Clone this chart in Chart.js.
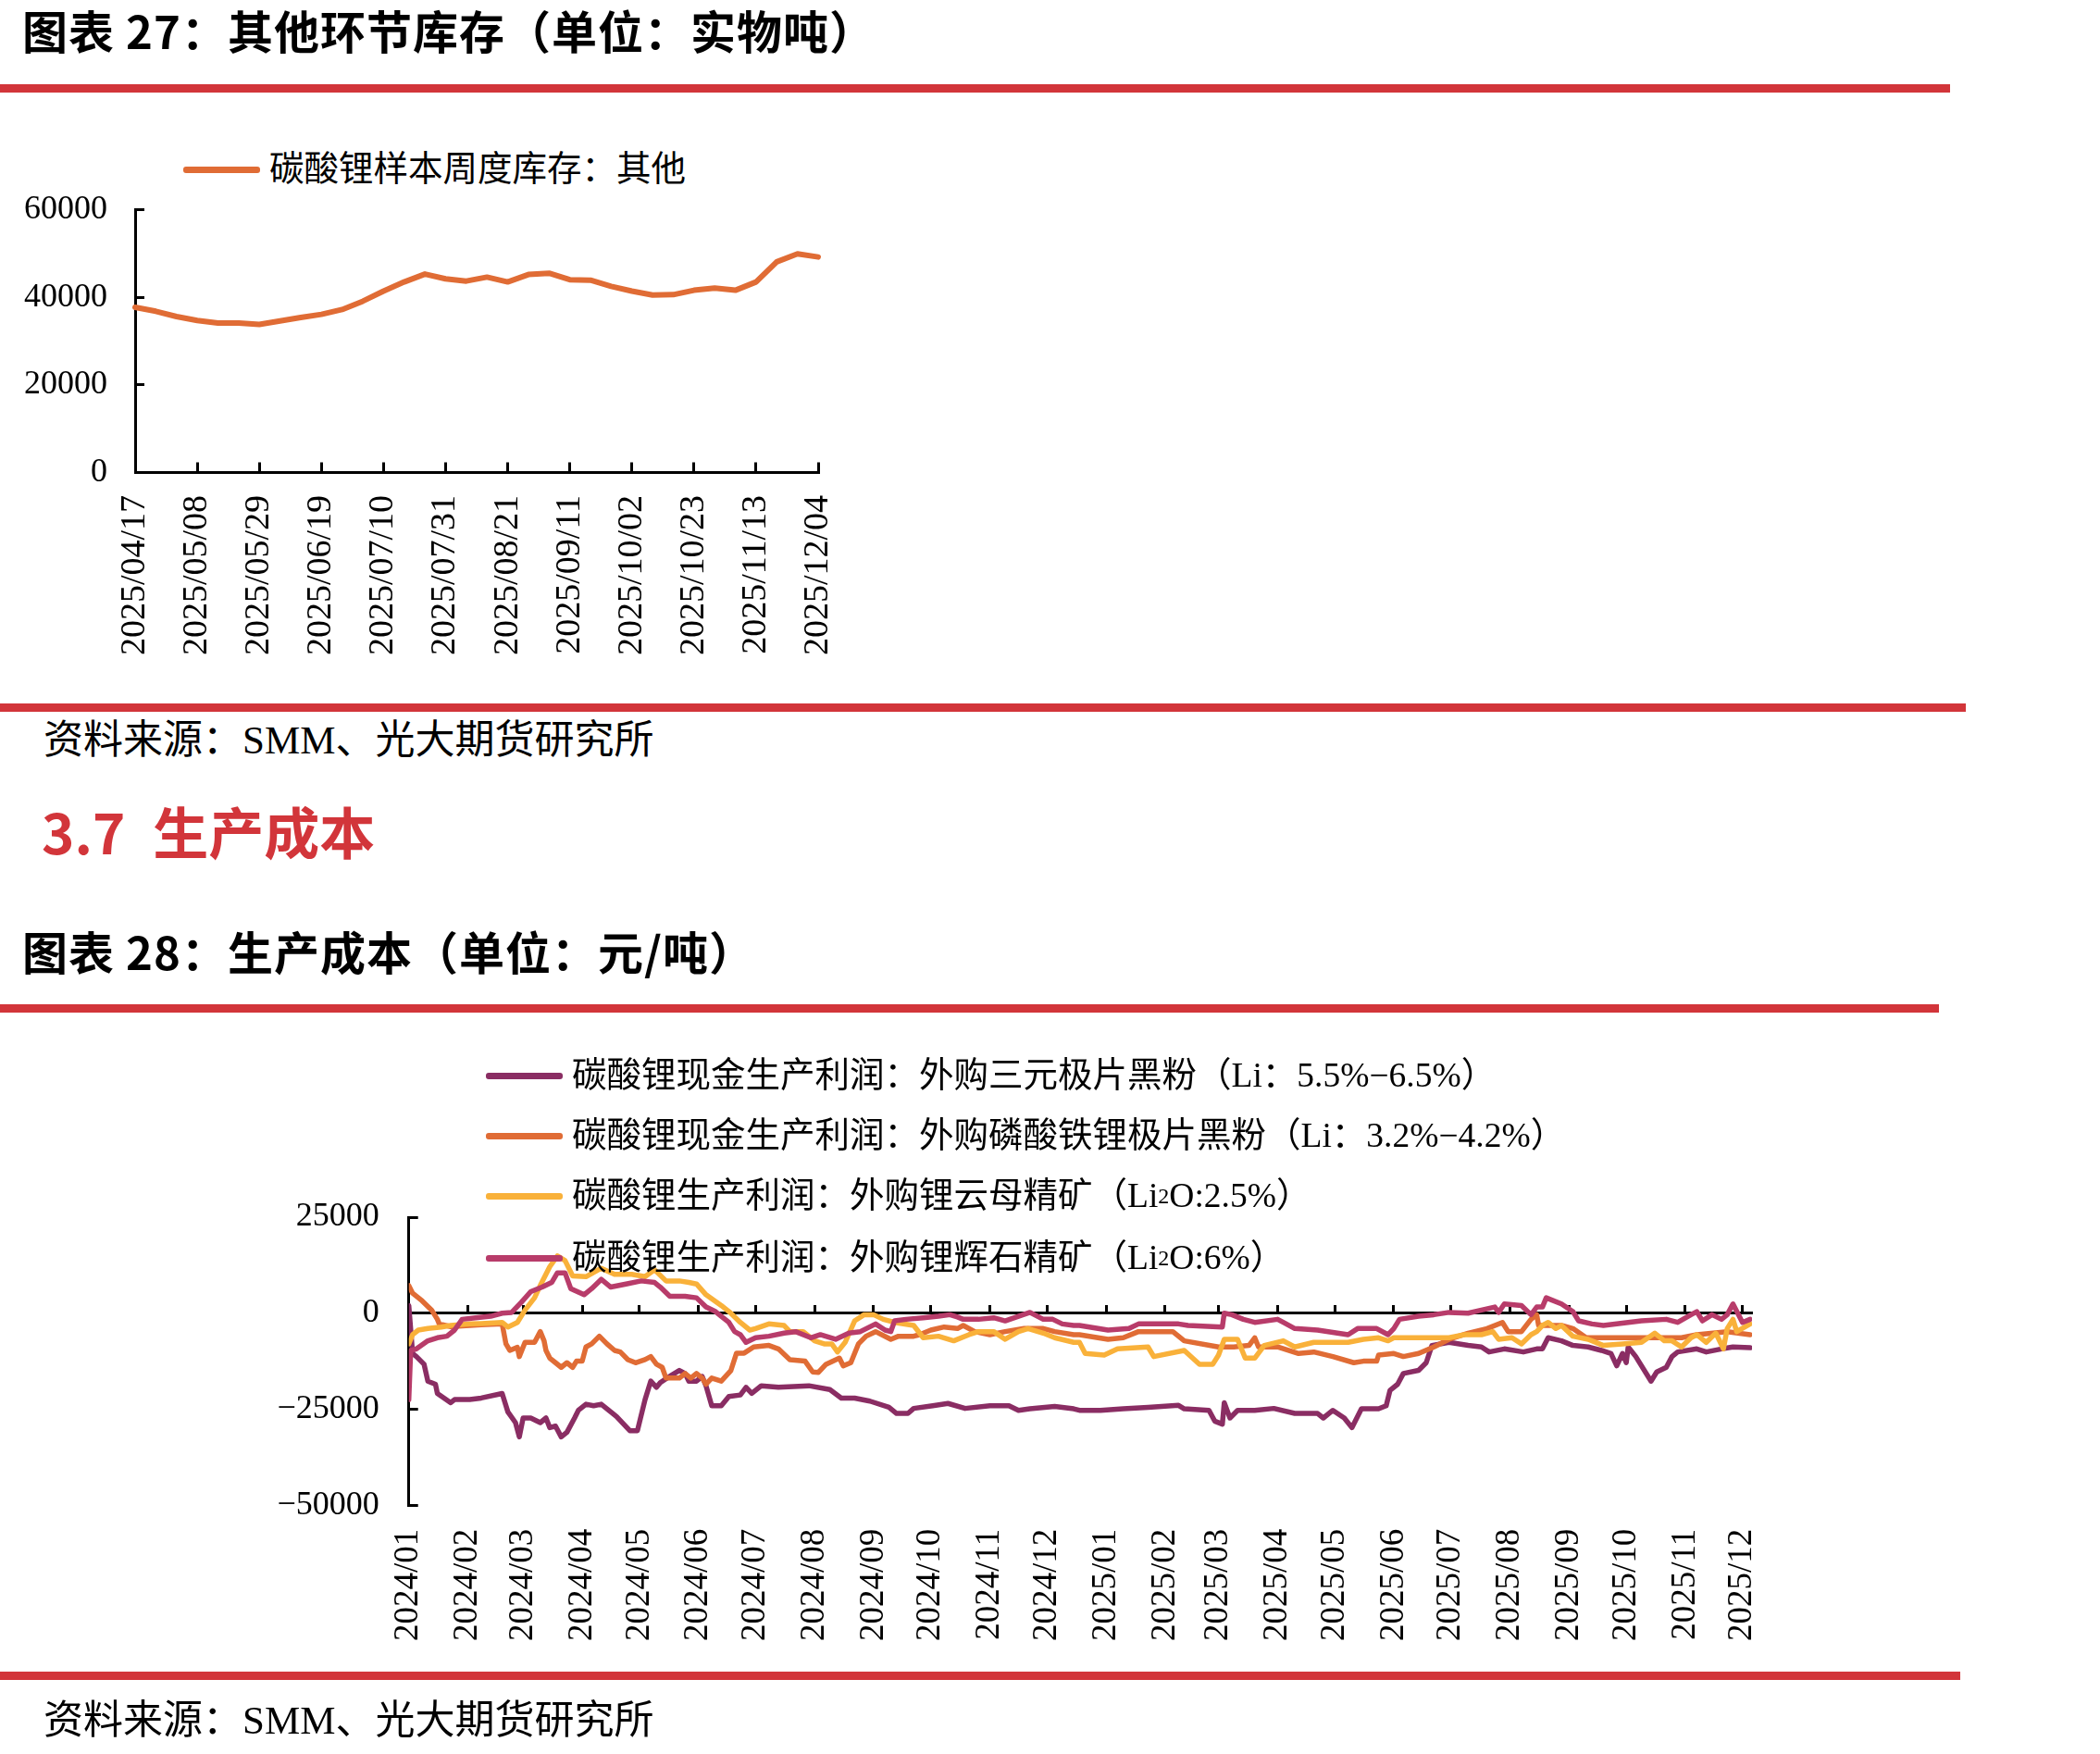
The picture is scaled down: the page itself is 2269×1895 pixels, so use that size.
<!DOCTYPE html>
<html><head><meta charset="utf-8">
<script src="https://cdn.jsdelivr.net/npm/chart.js@4.4.1/dist/chart.umd.min.js"></script>
<style>
html,body{margin:0;padding:0;background:#fff;}
body{width:2269px;height:1895px;position:relative;overflow:hidden;font-family:"Liberation Serif","Noto Sans CJK SC",serif;color:#000;}
.abs{position:absolute;white-space:nowrap;}
.title{font-family:"Noto Sans CJK SC";font-weight:700;font-size:49px;letter-spacing:1px;line-height:60px;height:60px;}
.rule{position:absolute;left:0;height:9px;background:#D2353A;}
.src{font-size:43px;line-height:56px;height:56px;}
.sec{font-family:"Noto Sans CJK SC";font-weight:700;font-size:60px;line-height:80px;height:80px;color:#D2353A;}
.lg{position:absolute;white-space:nowrap;font-size:37.5px;line-height:50px;height:50px;display:flex;align-items:center;}
.lg i{display:inline-block;width:83px;height:7px;margin-right:10px;border-radius:3px;}
.lg sub{font-size:24px;vertical-align:-6px;line-height:0;}
canvas{position:absolute;left:0;}
</style></head>
<body>
<div class="abs title" style="left:24px;top:2px;">图表 27：其他环节库存（单位：实物吨）</div>
<div class="rule" style="top:91px;width:2107px;"></div>
<div class="lg" style="left:198px;top:158px;"><i style="background:#E06C35"></i>碳酸锂样本周度库存：其他</div>
<canvas id="c1" width="950" height="560" style="top:200px;"></canvas>
<div class="rule" style="top:760px;width:2124px;"></div>
<div class="abs src" style="left:47px;top:772px;">资料来源：SMM、光大期货研究所</div>
<div class="abs sec" style="left:45px;top:857px;">3.7<span style="margin-left:30px">生产成本</span></div>
<div class="abs title" style="left:24px;top:997px;">图表 28：生产成本（单位：元/吨）</div>
<div class="rule" style="top:1085px;width:2095px;"></div>
<canvas id="c2" width="2000" height="790" style="top:1100px;"></canvas>
<div class="lg" style="left:525px;top:1137px;"><i style="background:#8A2D63"></i>碳酸锂现金生产利润：外购三元极片黑粉（Li：5.5%−6.5%）</div>
<div class="lg" style="left:525px;top:1202px;"><i style="background:#E06C35"></i>碳酸锂现金生产利润：外购磷酸铁锂极片黑粉（Li：3.2%−4.2%）</div>
<div class="lg" style="left:525px;top:1267px;"><i style="background:#F9B13A"></i>碳酸锂生产利润：外购锂云母精矿（Li<sub>2</sub>O:2.5%）</div>
<div class="lg" style="left:525px;top:1334px;"><i style="background:#B83C6A"></i>碳酸锂生产利润：外购锂辉石精矿（Li<sub>2</sub>O:6%）</div>
<div class="rule" style="top:1806px;width:2118px;"></div>
<div class="abs src" style="left:47px;top:1831px;">资料来源：SMM、光大期货研究所</div>
<script>
// ---------- Chart 27 data ----------
const stockDates = ['2025/04/17','2025/04/24','2025/05/01','2025/05/08','2025/05/15','2025/05/22','2025/05/29','2025/06/05','2025/06/12','2025/06/19','2025/06/26','2025/07/03','2025/07/10','2025/07/17','2025/07/24','2025/07/31','2025/08/07','2025/08/14','2025/08/21','2025/08/28','2025/09/04','2025/09/11','2025/09/18','2025/09/25','2025/10/02','2025/10/09','2025/10/16','2025/10/23','2025/10/30','2025/11/06','2025/11/13','2025/11/20','2025/11/27','2025/12/04'];
const stockOther = [37700,36800,35600,34700,34100,34100,33800,34600,35400,36100,37200,39100,41400,43500,45300,44200,43700,44600,43500,45200,45500,44000,43900,42500,41400,40500,40600,41600,42100,41600,43500,48100,49900,49200];
const stockYTicks = [0,20000,40000,60000];

// ---------- Chart 28 data ----------
const monthLabels = ['2024/01','2024/02','2024/03','2024/04','2024/05','2024/06','2024/07','2024/08','2024/09','2024/10','2024/11','2024/12','2025/01','2025/02','2025/03','2025/04','2025/05','2025/06','2025/07','2025/08','2025/09','2025/10','2025/11','2025/12'];
const costYTicks = [-50000,-25000,0,25000];
const costEndDate = '2025-12-06';

const ternaryDates = ['2024-01-01','2024-01-03','2024-01-05','2024-01-09','2024-01-11','2024-01-15','2024-01-16','2024-01-23','2024-01-25','2024-02-02','2024-02-08','2024-02-19','2024-02-22','2024-02-26','2024-02-28','2024-03-01','2024-03-05','2024-03-10','2024-03-13','2024-03-15','2024-03-18','2024-03-21','2024-03-24','2024-03-28','2024-03-30','2024-04-03','2024-04-07','2024-04-11','2024-04-16','2024-04-19','2024-04-26','2024-04-30','2024-05-04','2024-05-07','2024-05-10','2024-05-12','2024-05-18','2024-05-22','2024-05-25','2024-05-27','2024-05-31','2024-06-03','2024-06-05','2024-06-08','2024-06-13','2024-06-17','2024-06-23','2024-06-26','2024-06-29','2024-07-04','2024-07-13','2024-07-29','2024-08-09','2024-08-15','2024-08-22','2024-08-30','2024-09-09','2024-09-13','2024-09-19','2024-09-22','2024-10-02','2024-10-10','2024-10-19','2024-11-01','2024-11-11','2024-11-16','2024-11-22','2024-12-05','2024-12-15','2024-12-18','2024-12-29','2025-01-10','2025-01-23','2025-02-08','2025-02-11','2025-02-24','2025-02-27','2025-03-03','2025-03-04','2025-03-07','2025-03-11','2025-03-20','2025-03-30','2025-04-10','2025-04-22','2025-04-25','2025-04-30','2025-05-06','2025-05-10','2025-05-15','2025-05-24','2025-05-28','2025-05-30','2025-06-03','2025-06-06','2025-06-14','2025-06-18','2025-06-21','2025-06-30','2025-07-10','2025-07-17','2025-07-21','2025-07-29','2025-08-08','2025-08-15','2025-08-18','2025-08-21','2025-08-28','2025-09-03','2025-09-11','2025-09-18','2025-09-23','2025-09-26','2025-09-29','2025-10-01','2025-10-02','2025-10-06','2025-10-14','2025-10-17','2025-10-22','2025-10-25','2025-10-28','2025-11-07','2025-11-12','2025-11-20','2025-11-26','2025-12-05'];
const ternaryProfit = [2000,-10500,-11300,-13300,-17700,-18500,-20900,-23300,-22500,-22500,-22100,-20900,-25700,-28500,-32200,-27300,-27300,-28500,-27300,-29800,-29400,-32200,-31000,-27300,-25300,-23700,-24100,-23700,-25700,-26900,-30600,-30600,-22500,-17700,-19300,-18100,-16100,-14900,-15700,-17700,-17700,-16500,-18900,-24100,-24100,-21700,-21300,-19300,-20900,-18900,-19300,-18900,-19900,-22100,-22100,-22900,-24500,-26100,-26100,-24800,-24100,-23500,-24800,-24100,-24100,-25300,-24900,-24300,-24900,-25300,-25300,-24900,-24500,-24000,-24900,-25300,-28100,-28900,-23300,-27300,-25300,-25300,-24800,-26100,-26100,-27300,-25300,-27300,-29800,-24900,-24900,-24100,-20100,-18500,-15700,-14900,-12900,-8400,-7600,-8400,-8800,-10100,-9300,-10100,-9300,-9300,-6400,-7200,-8400,-8800,-9700,-10500,-13700,-10500,-12900,-8800,-11300,-17700,-15300,-14100,-11300,-10100,-9300,-10100,-9300,-8800,-9000];

const lfpDates = ['2024-01-01','2024-01-03','2024-01-08','2024-01-13','2024-01-16','2024-01-17','2024-01-23','2024-02-08','2024-02-19','2024-02-21','2024-02-23','2024-02-27','2024-02-28','2024-03-02','2024-03-07','2024-03-10','2024-03-12','2024-03-13','2024-03-15','2024-03-18','2024-03-21','2024-03-24','2024-03-27','2024-03-29','2024-04-01','2024-04-03','2024-04-06','2024-04-10','2024-04-14','2024-04-18','2024-04-21','2024-04-25','2024-04-29','2024-05-04','2024-05-07','2024-05-10','2024-05-13','2024-05-15','2024-05-22','2024-05-25','2024-05-28','2024-05-31','2024-06-03','2024-06-05','2024-06-08','2024-06-13','2024-06-18','2024-06-21','2024-06-25','2024-06-30','2024-07-08','2024-07-13','2024-07-19','2024-07-27','2024-07-31','2024-08-03','2024-08-07','2024-08-14','2024-08-16','2024-08-20','2024-08-24','2024-08-28','2024-09-02','2024-09-10','2024-09-14','2024-09-22','2024-09-25','2024-10-01','2024-10-08','2024-10-15','2024-10-18','2024-10-24','2024-11-01','2024-11-09','2024-11-19','2024-11-29','2024-12-05','2024-12-15','2024-12-18','2025-01-02','2025-01-10','2025-01-18','2025-02-05','2025-02-11','2025-03-01','2025-03-09','2025-03-17','2025-03-20','2025-03-22','2025-04-01','2025-04-12','2025-04-20','2025-04-30','2025-05-11','2025-05-16','2025-05-23','2025-05-24','2025-06-01','2025-06-06','2025-06-14','2025-06-22','2025-06-30','2025-07-10','2025-07-20','2025-07-28','2025-07-31','2025-08-07','2025-08-12','2025-08-15','2025-08-16','2025-08-28','2025-09-03','2025-09-10','2025-09-19','2025-10-14','2025-10-30','2025-11-07','2025-11-23','2025-12-05'];
const lfpProfit = [7200,5200,3200,800,-1600,-2800,-3500,-3000,-2800,-8000,-9700,-8900,-11300,-7600,-7600,-4800,-7200,-9700,-11700,-12900,-14100,-12900,-14100,-12500,-12500,-8800,-8000,-6000,-8000,-9700,-10100,-12100,-12900,-12100,-11300,-13300,-14100,-16900,-16900,-15700,-16900,-15700,-16900,-18500,-16900,-17700,-15000,-10400,-10400,-8800,-8400,-9300,-12100,-12500,-15300,-15400,-13300,-11700,-13700,-12900,-8000,-6000,-4800,-6800,-6000,-6000,-5600,-4400,-3600,-4000,-3200,-4800,-5600,-4800,-4000,-4000,-4800,-5600,-5600,-6800,-6400,-4800,-4800,-7200,-8800,-8800,-8400,-6400,-8800,-8800,-10500,-10100,-11300,-12900,-12500,-12500,-10900,-10500,-11300,-10500,-8800,-6800,-5200,-4000,-2400,-4800,-4800,-1600,-400,-3200,-3200,-4000,-6400,-6400,-6400,-6400,-5600,-4800,-5600];

const lepidoliteDates = ['2024-01-01','2024-01-03','2024-01-06','2024-01-11','2024-01-18','2024-01-23','2024-02-02','2024-02-08','2024-02-19','2024-02-22','2024-02-27','2024-03-02','2024-03-07','2024-03-10','2024-03-15','2024-03-19','2024-03-23','2024-03-27','2024-04-03','2024-04-11','2024-04-18','2024-04-27','2024-05-04','2024-05-09','2024-05-15','2024-05-22','2024-05-27','2024-05-31','2024-06-05','2024-06-13','2024-06-18','2024-06-23','2024-06-28','2024-07-01','2024-07-08','2024-07-16','2024-07-19','2024-07-26','2024-08-01','2024-08-06','2024-08-10','2024-08-13','2024-08-17','2024-08-22','2024-08-27','2024-09-01','2024-09-06','2024-09-12','2024-09-22','2024-09-27','2024-10-05','2024-10-13','2024-10-21','2024-10-26','2024-11-03','2024-11-09','2024-11-16','2024-11-21','2024-11-29','2024-12-05','2024-12-15','2024-12-18','2024-12-21','2024-12-31','2025-01-07','2025-01-23','2025-01-26','2025-02-11','2025-02-19','2025-02-26','2025-03-01','2025-03-04','2025-03-11','2025-03-15','2025-03-20','2025-03-25','2025-04-04','2025-04-10','2025-04-20','2025-05-08','2025-05-16','2025-05-24','2025-05-29','2025-06-01','2025-06-14','2025-06-30','2025-07-08','2025-07-17','2025-07-23','2025-07-26','2025-08-02','2025-08-07','2025-08-12','2025-08-15','2025-08-18','2025-08-21','2025-08-25','2025-08-28','2025-09-03','2025-09-11','2025-09-19','2025-09-29','2025-10-09','2025-10-16','2025-10-21','2025-10-25','2025-10-30','2025-11-04','2025-11-07','2025-11-12','2025-11-17','2025-11-21','2025-11-23','2025-11-26','2025-11-28','2025-12-05'];
const lepidoliteProfit = [-8000,-5600,-4400,-4000,-3600,-3200,-2800,-2700,-2400,-3600,-2400,800,4000,7200,12100,14900,13700,9700,9500,11700,10100,10100,9500,11300,8400,8400,8000,7600,4800,2000,0,-2400,-4400,-4000,-2800,-3200,-4800,-4800,-7200,-8000,-8000,-10100,-7600,-2000,-400,-400,-1600,-2400,-3200,-6400,-6000,-7200,-5600,-4800,-4800,-6800,-4800,-4000,-5200,-6400,-7600,-7600,-10500,-10900,-9300,-8800,-11300,-9700,-13300,-13300,-10900,-6800,-6800,-11700,-11700,-8400,-7200,-8800,-7600,-7600,-6800,-6400,-7200,-6400,-6400,-6400,-5600,-5600,-4800,-6800,-6400,-8000,-5600,-4800,-3200,-2400,-4000,-3200,-6000,-6800,-8400,-8000,-7600,-5200,-7200,-7200,-8800,-6400,-5600,-7600,-5200,-9300,-4000,-1600,-4800,-2800];

const spodumeneDates = ['2024-01-01','2024-01-02','2024-01-05','2024-01-11','2024-01-16','2024-01-21','2024-01-25','2024-01-29','2024-02-05','2024-02-13','2024-02-19','2024-02-24','2024-02-29','2024-03-05','2024-03-11','2024-03-16','2024-03-19','2024-03-23','2024-03-26','2024-04-02','2024-04-06','2024-04-11','2024-04-16','2024-04-24','2024-05-02','2024-05-09','2024-05-12','2024-05-17','2024-05-25','2024-05-31','2024-06-05','2024-06-10','2024-06-13','2024-06-17','2024-06-20','2024-06-23','2024-06-26','2024-07-01','2024-07-08','2024-07-16','2024-07-22','2024-07-30','2024-08-04','2024-08-12','2024-08-19','2024-08-25','2024-09-02','2024-09-07','2024-09-10','2024-09-12','2024-09-18','2024-09-27','2024-10-05','2024-10-11','2024-10-15','2024-10-18','2024-10-26','2024-11-03','2024-11-09','2024-11-16','2024-11-22','2024-11-29','2024-12-04','2024-12-09','2024-12-15','2024-12-18','2025-01-02','2025-01-13','2025-01-18','2025-02-08','2025-02-13','2025-03-03','2025-03-04','2025-03-08','2025-03-14','2025-03-20','2025-04-01','2025-04-04','2025-04-10','2025-04-22','2025-05-08','2025-05-13','2025-05-23','2025-05-29','2025-06-01','2025-06-04','2025-06-14','2025-06-22','2025-06-30','2025-07-10','2025-07-17','2025-07-24','2025-07-26','2025-07-29','2025-08-07','2025-08-12','2025-08-15','2025-08-18','2025-08-20','2025-08-28','2025-09-03','2025-09-06','2025-09-13','2025-09-19','2025-09-29','2025-10-09','2025-10-22','2025-10-28','2025-11-04','2025-11-07','2025-11-10','2025-11-15','2025-11-20','2025-11-23','2025-11-26','2025-12-01','2025-12-05'];
const spodumeneProfit = [-22500,-9700,-9300,-7200,-6400,-6000,-4400,-1600,-1200,-800,0,200,2800,5600,6800,8000,10500,10500,6400,4800,6400,8800,6800,7600,8400,8000,6800,4400,4400,4000,1600,400,-800,-2400,-4800,-5600,-7600,-6400,-6000,-5200,-4800,-6400,-5600,-6800,-5200,-4800,-2800,-4400,-4800,-2000,-1600,-1200,-800,-400,-1000,-1600,-1600,-1200,-2000,-800,200,-1600,-1600,-2800,-3200,-3200,-4400,-4000,-2800,-2800,-3200,-3600,0,-400,-1600,-2400,-1600,-2400,-4000,-4400,-5600,-4000,-4000,-5600,-4000,-1600,-800,-400,200,0,800,1600,200,2400,2000,-400,1600,1600,4000,2400,400,-2000,-2800,-3200,-2600,-2000,-1600,-2400,-400,400,-2000,-400,-1600,-400,2400,-2400,-1600];

// ---------- helpers ----------
const DAY0 = Date.UTC(2024, 0, 1);
function toDay(s) { const p = s.split(/[-\/]/).map(Number); return (Date.UTC(p[0], p[1] - 1, p[2] || 1) - DAY0) / 86400000; }
function pts(dates, vals) { return dates.map((d, i) => ({ x: toDay(d), y: vals[i] })); }
const monthDays = monthLabels.map(l => toDay(l + '/01'));
const xMax = toDay(costEndDate);
const minus = v => String(v).replace('-', '\u2212');
const noPad = s => { s.paddingTop = 0; s.paddingBottom = 0; s.paddingLeft = 0; s.paddingRight = 0; };

Chart.defaults.font.family = '"Liberation Serif","Noto Sans CJK SC",serif';
Chart.defaults.font.size = 37;
Chart.defaults.color = '#000';

const common = {
  responsive: false, animation: false, devicePixelRatio: 1, events: [],
  plugins: { legend: { display: false }, tooltip: { enabled: false } },
  elements: { point: { radius: 0 }, line: { tension: 0, borderJoinStyle: 'round', borderCapStyle: 'round', fill: false } }
};

// ---------- Chart 27 ----------
new Chart(document.getElementById('c1'), {
  type: 'line',
  data: { labels: stockDates, datasets: [{ label: '碳酸锂样本周度库存：其他', data: stockOther, borderColor: '#E06C35', backgroundColor: '#E06C35', borderWidth: 6 }] },
  options: Object.assign({}, common, {
    layout: { autoPadding: false, padding: { top: 26.5, right: 66, bottom: 0, left: 0 } },
    scales: {
      x: {
        type: 'category', offset: false,
        afterBuildTicks: s => { s.ticks = s.ticks.filter((t, i) => i % 3 === 0); },
        afterFit: s => { s.height = 249.5; noPad(s); },
        ticks: { autoSkip: false, maxRotation: 90, minRotation: 90, padding: 35.5, font: { size: 38 } },
        grid: { drawOnChartArea: false, drawTicks: true, tickLength: -11, tickColor: '#000', tickWidth: 3 },
        border: { display: true, color: '#000', width: 3 }
      },
      y: {
        min: 0, max: 60000,
        afterBuildTicks: s => { s.ticks = stockYTicks.map(v => ({ value: v })); },
        afterFit: s => { s.width = 146; noPad(s); },
        ticks: { padding: 40, font: { size: 36 }, callback: v => minus(v) },
        grid: { drawOnChartArea: false, drawTicks: true, tickLength: -10, tickColor: '#000', tickWidth: 3 },
        border: { display: true, color: '#000', width: 3 }
      }
    }
  })
});

// ---------- Chart 28 ----------
const lineDs = (label, dates, vals, color, order) => ({ label, data: pts(dates, vals), borderColor: color, backgroundColor: color, borderWidth: 5.5, order, xAxisID: 'x', yAxisID: 'y' });
new Chart(document.getElementById('c2'), {
  type: 'line',
  data: { datasets: [
    lineDs('碳酸锂现金生产利润：外购三元极片黑粉（Li：5.5%−6.5%）', ternaryDates, ternaryProfit, '#8A2D63', 4),
    lineDs('碳酸锂现金生产利润：外购磷酸铁锂极片黑粉（Li：3.2%−4.2%）', lfpDates, lfpProfit, '#E06C35', 3),
    lineDs('碳酸锂生产利润：外购锂云母精矿（Li2O:2.5%）', lepidoliteDates, lepidoliteProfit, '#F9B13A', 2),
    lineDs('碳酸锂生产利润：外购锂辉石精矿（Li2O:6%）', spodumeneDates, spodumeneProfit, '#B83C6A', 1)
  ] },
  options: Object.assign({}, common, {
    layout: { autoPadding: false, padding: { top: 215, right: 107, bottom: 0, left: 0 } },
    scales: {
      x: {
        type: 'linear', position: 'bottom', min: 0, max: xMax,
        afterBuildTicks: s => { s.ticks = monthDays.map(v => ({ value: v })); },
        afterFit: s => { s.height = 263.8; noPad(s); },
        ticks: { autoSkip: false, maxRotation: 90, minRotation: 90, padding: 25.6, callback: (v, i) => monthLabels[i] },
        grid: { display: false, drawTicks: false },
        border: { display: false }
      },
      x2: {
        type: 'linear', axis: 'x', position: { y: 0 }, min: 0, max: xMax,
        afterBuildTicks: s => { s.ticks = monthDays.map(v => ({ value: v })); },
        afterFit: s => { noPad(s); },
        ticks: { display: false },
        grid: { drawOnChartArea: false, drawTicks: true, tickLength: -10, tickColor: '#000', tickWidth: 3 },
        border: { display: true, color: '#000', width: 3 }
      },
      y: {
        min: -50000, max: 25000,
        afterBuildTicks: s => { s.ticks = costYTicks.map(v => ({ value: v })); },
        afterFit: s => { s.width = 441.7; noPad(s); },
        ticks: { padding: 42, font: { size: 36 }, callback: v => minus(v) },
        grid: { drawOnChartArea: false, drawTicks: true, tickLength: -10, tickColor: '#000', tickWidth: 3 },
        border: { display: true, color: '#000', width: 3 }
      }
    }
  })
});
</script>
</body></html>
